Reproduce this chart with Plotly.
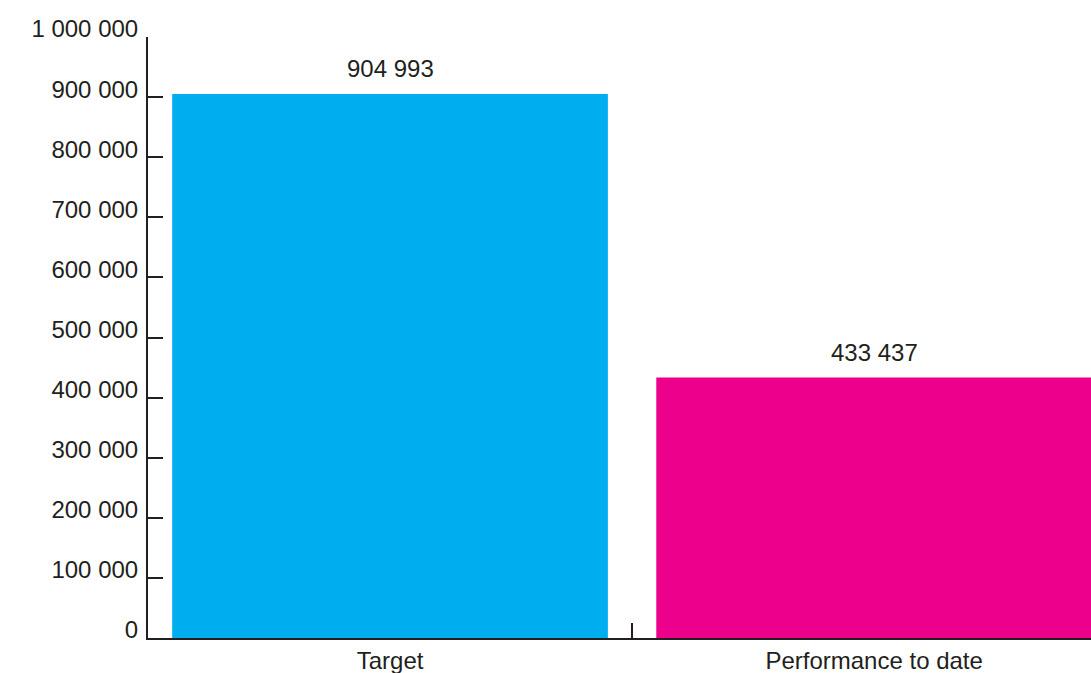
import plotly.graph_objects as go

# Values shown on the chart
categories = ["Target", "Performance to date"]
values = [904993, 433437]
bar_colors = ["#00AEEF", "#EC008C"]
y_ticks = [0, 100000, 200000, 300000, 400000, 500000, 600000, 700000, 800000, 900000, 1000000]

ink = "#231F20"
font_family = "Liberation Sans, Arial, sans-serif"
font_size = 24


def fmt(v):
    return f"{v:,}".replace(",", " ")


fig = go.Figure()
fig.add_trace(go.Bar(
    x=categories,
    y=values,
    marker=dict(color=bar_colors, line=dict(width=0)),
    hoverinfo="skip",
))

# Value labels above each bar
for cat, val in zip(categories, values):
    fig.add_annotation(
        x=cat, y=val, text=fmt(val), showarrow=False,
        yanchor="bottom", yshift=10,
        font=dict(family=font_family, size=font_size, color=ink),
    )

fig.update_layout(
    width=1091, height=673,
    margin=dict(l=148, r=0, t=37, b=35),
    paper_bgcolor="white", plot_bgcolor="white",
    separators=". ",
    bargap=0.1,
    showlegend=False,
    font=dict(family=font_family, size=font_size, color=ink),
)

fig.update_xaxes(
    type="category",
    range=[-0.5, 1.448],
    showline=True, linecolor=ink, linewidth=2,
    ticks="inside", tickson="boundaries", ticklen=15, tickwidth=2, tickcolor=ink,
    showgrid=False, zeroline=False,
    tickfont=dict(family=font_family, size=font_size, color=ink),
)

fig.update_yaxes(
    range=[0, 1000000],
    tickvals=y_ticks,
    ticktext=[fmt(v) for v in y_ticks],
    showline=True, linecolor=ink, linewidth=2,
    ticks="inside", ticklen=15, tickwidth=2, tickcolor=ink,
    showgrid=False, zeroline=False,
    ticklabelshift=-8,
    ticklabelstandoff=3,
    tickfont=dict(family=font_family, size=font_size, color=ink),
)

fig.write_html("out.html")
